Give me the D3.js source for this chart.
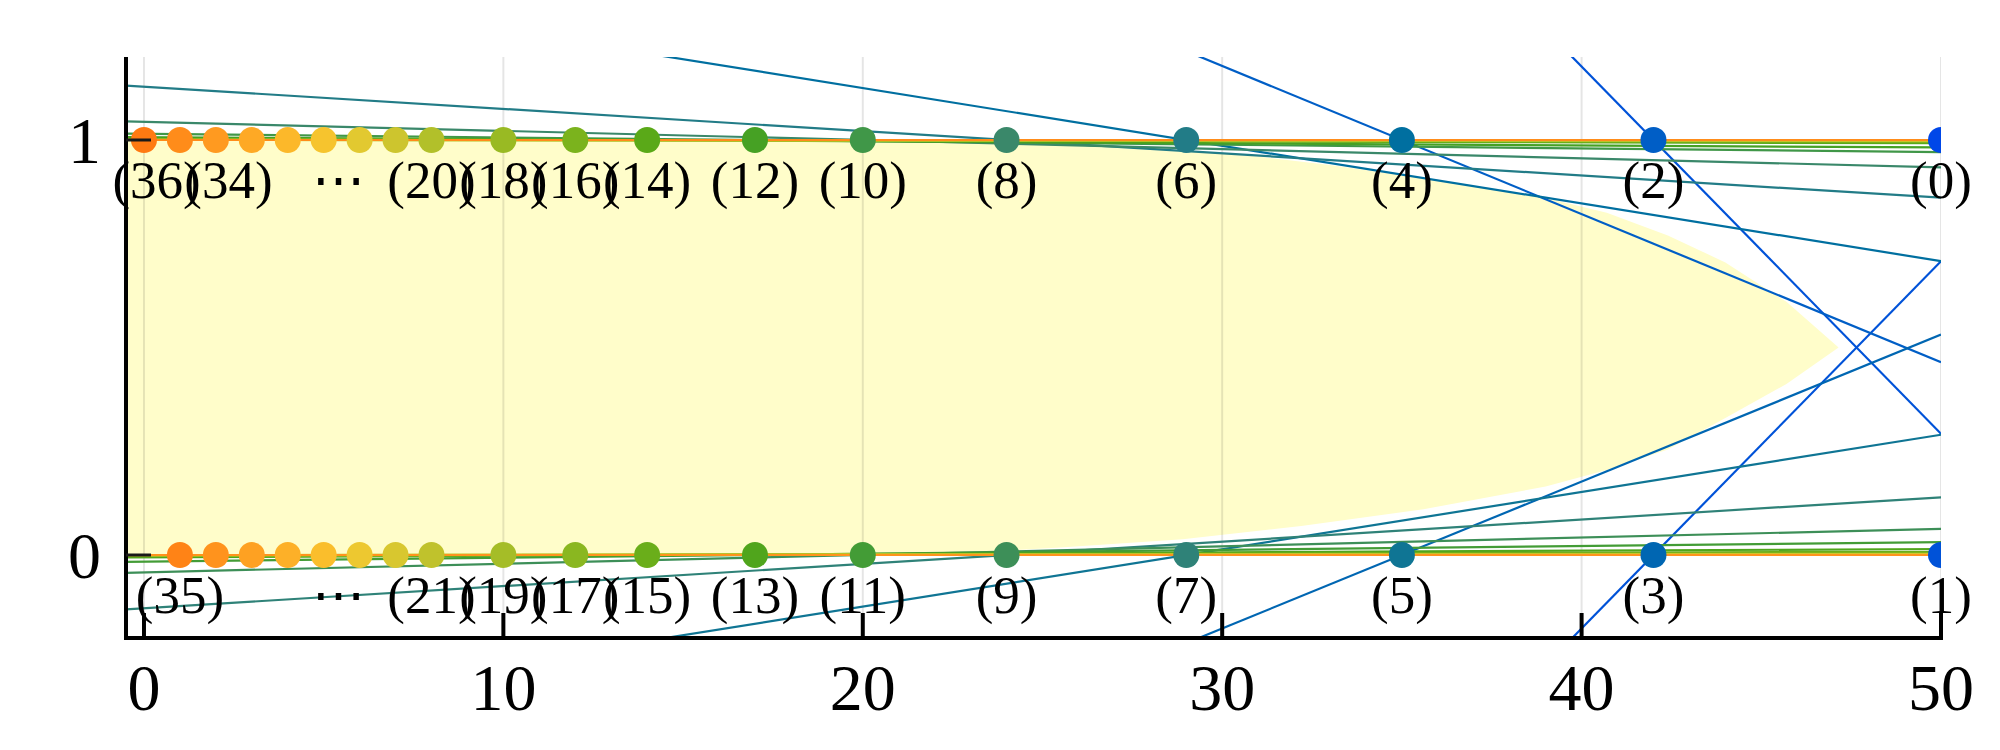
<!DOCTYPE html>
<html><head><meta charset="utf-8">
<script src="https://cdn.jsdelivr.net/npm/d3@7"></script>
<style>body{margin:0;background:#fff}svg{display:block}</style>
</head><body><svg id="c" width="2000" height="750"></svg>
<script>
// ---- data ----
const topX = [50,42,35,29,24,20,17,14,12,10,8,7,6,5,4,3,2,1,0];
const topIdx = [0,2,4,6,8,10,12,14,16,18,20,22,24,26,28,30,32,34,36];
const topSlopes = [null,0.0885,0.0357,0.0139,0.00535,0.0022,0.00088,0.0005,0.0002,0.00012,0.00005,0.00003,0.00002,0.00001,0,0,0,0,0];
const bottomX = [50,42,35,29,24,20,17,14,12,10,8,7,6,5,4,3,2,1];
const bottomIdx = [1,3,5,7,9,11,13,15,17,19,21,23,25,27,29,31,33,35];
const bottomSlopes = [null,0.0885,0.0354,0.0138,0.00535,0.0021,0.00094,0.0004,0.0002,0.0001,0.00005,0.00003,0.00002,0.00001,0,0,0,0];
const topLabelText = ["(0)","(2)","(4)","(6)","(8)","(10)","(12)","(14)","(16)","(18)","(20)","\u22EF","(34)","(36)"];
const topLabelX = [50,42,35,29,24,20,17,14,12,10,8,5.4,2.35,0.35];
const bottomLabelText = ["(1)","(3)","(5)","(7)","(9)","(11)","(13)","(15)","(17)","(19)","(21)","\u22EF","(35)"];
const bottomLabelX = [50,42,35,29,24,20,17,14,12,10,8,5.4,1];
const regionTopX = [-0.5,20,24,27,29,31,33,35,37,39,40.7,42.4,44,45.7,47.15];
const regionTopY = [1,1,0.995,0.986,0.975,0.96,0.94,0.915,0.89,0.86,0.825,0.77,0.705,0.61,0.5];
const regionBottomX = [47.15,45.7,44,42.4,40.7,39,35.6,32.2,28.9,25.5,23.8,20,-0.5];
const regionBottomY = [0.5,0.412,0.33,0.254,0.205,0.165,0.11,0.07,0.038,0.018,0.01,0,0];
const xTicks = [0,10,20,30,40,50];
const yTicks = [0,1];
const pointColors = ["#0047E8","#0052D8","#005EC6","#0066B2","#006FA0","#0F7594","#227C87","#2F8278","#3A886A","#3D8F58","#409748","#439C36","#46A124","#50A51C","#5AA918","#6AAE1A","#7BB31D","#8AB720","#99BA23","#A5BD27","#B2C02A","#C0C22C","#CDC52E","#D8C72F","#E2C930","#EDC830","#F6C42E","#FABE2C","#FCB82A","#FDB028","#FEA925","#FEA122","#FF9A20","#FF931D","#FF8C1A","#FF8316","#FF7A12"];

// ---- layout ----
const W = 2000, H = 750;
const m = {left:126, right:59, top:57, bottom:112};
const x = d3.scaleLinear().domain([-0.5,50]).range([m.left, W-m.right]);
const y = d3.scaleLinear().domain([-0.2,1.2]).range([H-m.bottom, m.top]);
const svg = d3.select("#c");
const font = "'Liberation Serif','Times New Roman',serif";

svg.append("defs").append("clipPath").attr("id","clip")
  .append("rect").attr("x",x(-0.5)).attr("y",y(1.2)).attr("width",x(50)-x(-0.5)).attr("height",y(-0.2)-y(1.2));

const plot = svg.append("g").attr("clip-path","url(#clip)");

// yellow region
const regionPts = regionTopX.map((v,i)=>[v,regionTopY[i]]).concat(regionBottomX.map((v,i)=>[v,regionBottomY[i]]));
plot.append("path")
  .attr("d", d3.line().x(d=>x(d[0])).y(d=>y(d[1]))(regionPts)+"Z")
  .attr("fill","#FFFDCA");

// grid
plot.selectAll("line.grid").data(xTicks).join("line").attr("class","grid")
  .attr("x1",d=>x(d)).attr("x2",d=>x(d)).attr("y1",y(-0.2)).attr("y2",y(1.2))
  .attr("stroke","#000").attr("stroke-opacity",0.1).attr("stroke-width",2);

// lines through points
const lines = [];
topX.forEach((px,i)=>{ if(topSlopes[i]!==null) lines.push({idx:topIdx[i], x0:px, y0:1, s:-topSlopes[i]}); });
bottomX.forEach((px,i)=>{ if(bottomSlopes[i]!==null) lines.push({idx:bottomIdx[i], x0:px, y0:0, s:bottomSlopes[i]}); });
lines.sort((a,b)=>a.idx-b.idx);
plot.selectAll("line.fit").data(lines).join("line").attr("class","fit")
  .attr("x1",x(-0.5)).attr("x2",x(50))
  .attr("y1",d=>y(d.y0 + d.s*(-0.5-d.x0)))
  .attr("y2",d=>y(d.y0 + d.s*(50-d.x0)))
  .attr("stroke",d=>pointColors[Math.max(1,d.idx-2)]).attr("stroke-width",2.2);

// points
const pts = topX.map((v,i)=>({x:v,y:1,idx:topIdx[i]})).concat(bottomX.map((v,i)=>({x:v,y:0,idx:bottomIdx[i]})));
plot.selectAll("circle").data(pts).join("circle")
  .attr("cx",d=>x(d.x)).attr("cy",d=>y(d.y)).attr("r",13)
  .attr("fill",d=>pointColors[d.idx]);

// axes
const ax = svg.append("g");
ax.append("line").attr("x1",x(-0.5)).attr("x2",x(50)+2).attr("y1",y(-0.2)).attr("y2",y(-0.2))
  .attr("stroke","#000").attr("stroke-width",4);
ax.append("line").attr("x1",x(-0.5)).attr("x2",x(-0.5)).attr("y1",y(1.2)).attr("y2",y(-0.2)+2)
  .attr("stroke","#000").attr("stroke-width",4);
ax.selectAll("line.xt").data(xTicks).join("line").attr("class","xt")
  .attr("x1",d=>x(d)).attr("x2",d=>x(d)).attr("y1",y(-0.2)).attr("y2",y(-0.2)-25)
  .attr("stroke","#000").attr("stroke-width",4);
ax.selectAll("line.yt").data(yTicks).join("line").attr("class","yt")
  .attr("x1",x(-0.5)).attr("x2",x(-0.5)+25).attr("y1",d=>y(d)).attr("y2",d=>y(d))
  .attr("stroke","#1a1a1a").attr("stroke-width",3);
ax.selectAll("text.xl").data(xTicks).join("text").attr("class","xl")
  .attr("x",d=>x(d)).attr("y",y(-0.2)+72).attr("text-anchor","middle")
  .style("font-family",font).style("font-size","66px").text(d=>d);
ax.selectAll("text.yl").data(yTicks).join("text").attr("class","yl")
  .attr("x",101).attr("y",d=>y(d)+23).attr("text-anchor","end")
  .style("font-family",font).style("font-size","66px").text(d=>d);

// point labels
const lab = svg.append("g").style("font-family",font+",'DejaVu Serif'").style("font-size","53px").attr("text-anchor","middle");
lab.selectAll("text.tl").data(topLabelText).join("text").attr("class","tl")
  .attr("x",(d,i)=>x(topLabelX[i])).attr("y",y(1)+58).text(d=>d);
lab.selectAll("text.bl").data(bottomLabelText).join("text").attr("class","bl")
  .attr("x",(d,i)=>x(bottomLabelX[i])).attr("y",y(0)+58).text(d=>d);
</script></body></html>
